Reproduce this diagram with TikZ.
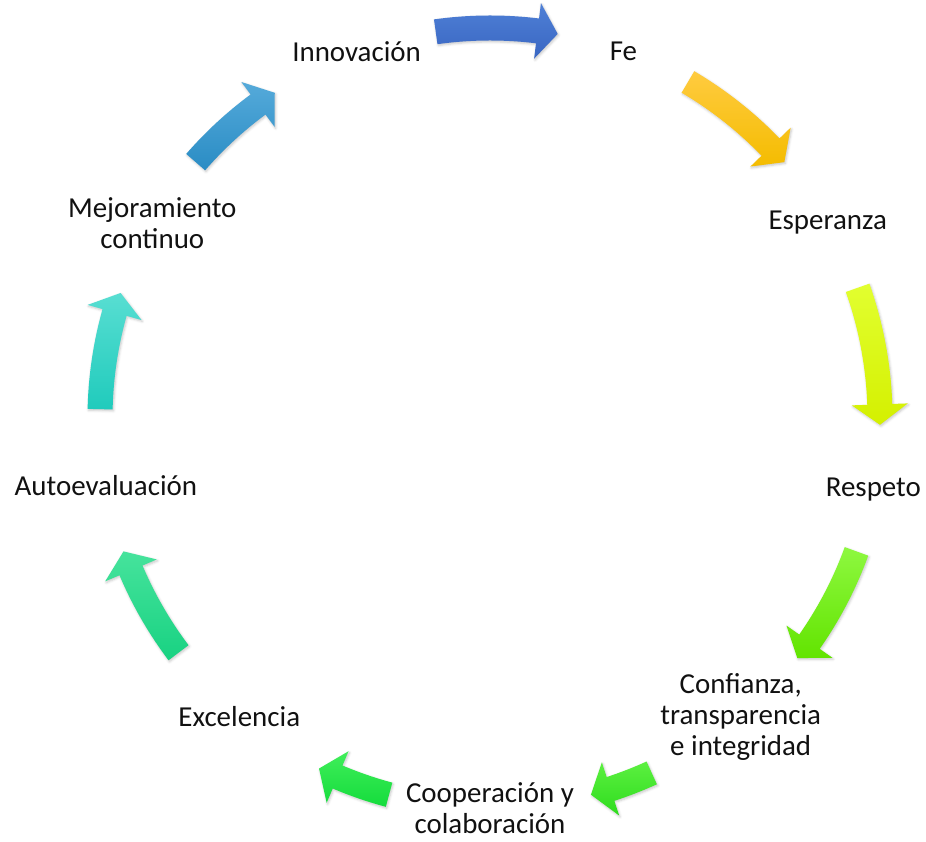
\documentclass[tikz,border=0pt]{standalone}
\usepackage{fontspec}
\setmainfont{Carlito}
\usetikzlibrary{shadows.blur}
\definecolor{a1t}{HTML}{4F80D6}\definecolor{a1b}{HTML}{3966C2}
\definecolor{a2t}{HTML}{FFCB40}\definecolor{a2b}{HTML}{F4BC00}
\definecolor{a3t}{HTML}{E2FF30}\definecolor{a3b}{HTML}{D4F000}
\definecolor{a4t}{HTML}{8EF840}\definecolor{a4b}{HTML}{62E400}
\definecolor{a5t}{HTML}{5CF040}\definecolor{a5b}{HTML}{2EDC1E}
\definecolor{a6t}{HTML}{40EE5A}\definecolor{a6b}{HTML}{14DC3C}
\definecolor{a7t}{HTML}{46E39C}\definecolor{a7b}{HTML}{18D282}
\definecolor{a8t}{HTML}{58DED2}\definecolor{a8b}{HTML}{20CBBC}
\definecolor{a9t}{HTML}{55AADA}\definecolor{a9b}{HTML}{2A8CC4}
\definecolor{txt}{HTML}{111111}
\newcommand\cycarrow[4]{%
  \pgfmathsetmacro\cyab{#2+3}%
  \path[cyc, top color=#3, bottom color=#4]
    (#1:402.5) arc[start angle=#1, end angle=\cyab, radius=12.075cm]
    -- (\cyab:418) -- (#2:390) -- (\cyab:362) -- (\cyab:377.5)
    arc[start angle=\cyab, end angle=#1, radius=11.325cm] -- cycle;}
\begin{document}
\begin{tikzpicture}[x=0.03cm,y=0.03cm,
  lbl/.style={align=center, font=\fontsize{24.7}{26.5}\selectfont, text=txt, inner sep=0pt},
  cyc/.style={draw=none, blur shadow={shadow xshift=0.8pt, shadow yshift=-1.2pt, shadow blur radius=2pt, shadow opacity=22}}]
\useasboundingbox (-490,-423) rectangle (436,418);
\node[lbl] (inn) at (110:390) {Innovación};
\node[lbl] (fe)  at (70:390) {Fe};
\node[lbl] (esp) at (30:390) {Esperanza};
\node[lbl] (res) at (-10.6:390) {Respeto};
\node[lbl] (con) at (-50:390) {Confianza,\\transparencia\\e integridad};
\node[lbl] (coo) at (-90:390) {Cooperación y\\colaboración};
\node[lbl] (exc) at (-130:390) {Excelencia};
\node[lbl] (aut) at (-170:390) {Autoevaluación};
\node[lbl] (mej) at (150:390) {Mejoramiento\\continuo};
\cycarrow{98}{80}{a1t}{a1b}
\cycarrow{59.5}{41}{a2t}{a2b}
\cycarrow{19.5}{-1}{a3t}{a3b}
\cycarrow{-20}{-38}{a4t}{a4b}
\cycarrow{-65.5}{-75}{a5t}{a5b}
\cycarrow{-105}{-116}{a6t}{a6b}
\cycarrow{-143}{-160}{a7t}{a7b}
\cycarrow{178.7}{161.3}{a8t}{a8b}
\cycarrow{139}{123.5}{a9t}{a9b}
\end{tikzpicture}
\end{document}
